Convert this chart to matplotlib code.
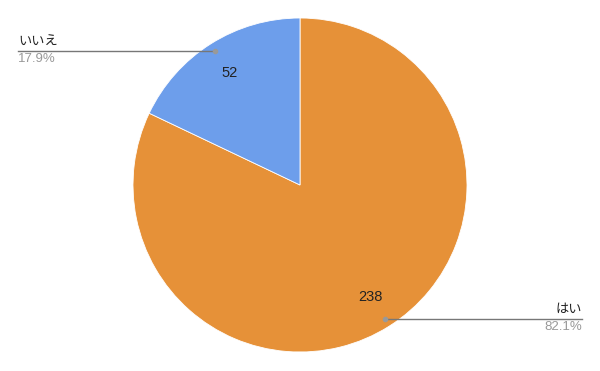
import matplotlib.pyplot as plt
import numpy as np

labels = ["はい", "いいえ"]
values = [238, 52]
colors = ["#E69138", "#6D9EEB"]

W, H = 600, 371
cx, cy, R = 300, H - 185, 167

fig = plt.figure(figsize=(6, 3.71), dpi=100)
ax = fig.add_axes([0, 0, 1, 1])

total = sum(values)
ax.pie(values, colors=colors, startangle=90, counterclock=False,
       center=(cx, cy), radius=R, frame=True,
       wedgeprops=dict(linewidth=0.6, edgecolor="white"))
ax.set_xlim(0, W)
ax.set_ylim(0, H)
ax.set_aspect("auto")
ax.axis("off")

# value labels + leader lines, from the wedge angles
start = 90.0
for lab, v in zip(labels, values):
    span = 360.0 * v / total
    mid = np.deg2rad(start - span / 2)
    start -= span
    tx, ty = cx + 0.79 * R * np.cos(mid), cy + 0.79 * R * np.sin(mid)
    ax.text(tx, ty, str(v), ha="center", va="center", fontsize=10.5,
            family=["Liberation Sans", "DejaVu Sans"], color="#222222")
    dx, dy = cx + 0.95 * R * np.cos(mid), cy + 0.95 * R * np.sin(mid)
    ax.plot([dx], [dy], "o", color="#999999", ms=3, zorder=5)
    pct = f"{100 * v / total:.1f}%"
    if np.cos(mid) < 0:
        ax.plot([18, dx], [dy, dy], color="#777777", lw=1)
        ax.text(18, dy + 3, lab, ha="left", va="bottom", fontsize=9.5,
                family=["Noto Sans CJK JP", "DejaVu Sans"], color="#222222")
        ax.text(18, dy - 2, pct, ha="left", va="top", fontsize=9.5,
                family=["Liberation Sans", "DejaVu Sans"], color="#999999")
    else:
        ax.plot([dx, 582], [dy, dy], color="#777777", lw=1)
        ax.text(582, dy + 3, lab, ha="right", va="bottom", fontsize=9.5,
                family=["Noto Sans CJK JP", "DejaVu Sans"], color="#222222")
        ax.text(582, dy - 2, pct, ha="right", va="top", fontsize=9.5,
                family=["Liberation Sans", "DejaVu Sans"], color="#999999")

fig.savefig("out.png", dpi=100)
